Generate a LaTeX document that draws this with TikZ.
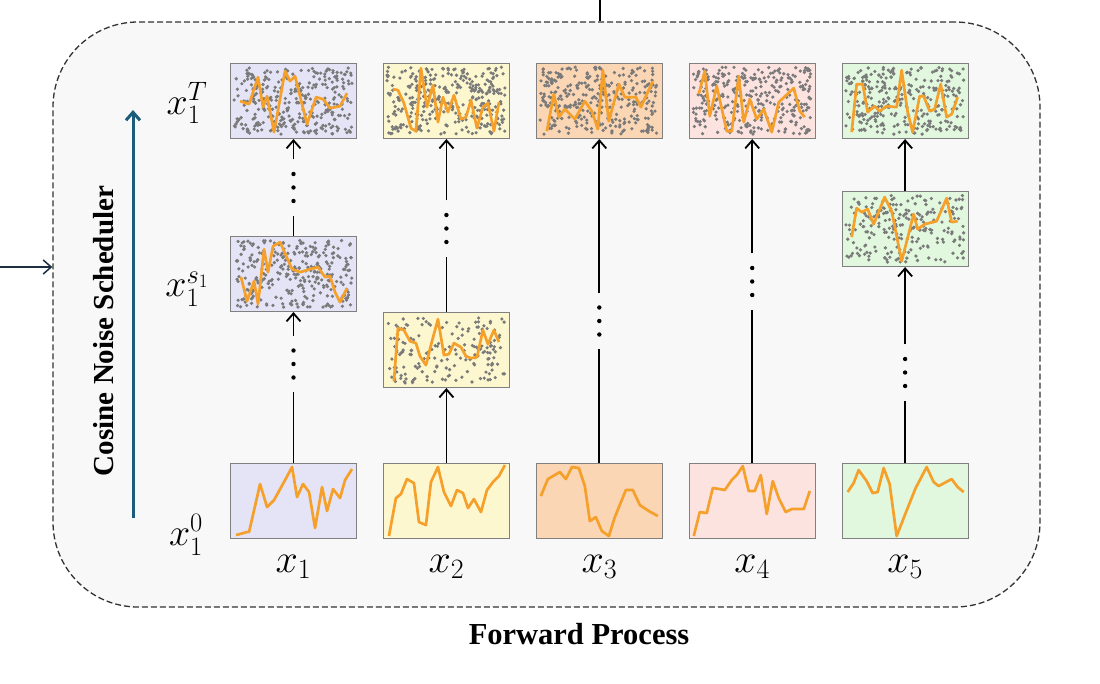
\RequirePackage{fix-cm}
\documentclass[tikz,border=0pt]{standalone}
\usepackage{fontspec}
\setmainfont{Liberation Serif}
\usetikzlibrary{positioning, arrows.meta}
\definecolor{panelA}{HTML}{E4E4F6}
\definecolor{panelB}{HTML}{FDF7CF}
\definecolor{panelC}{HTML}{FAD6B4}
\definecolor{panelD}{HTML}{FDE3E0}
\definecolor{panelE}{HTML}{E1F8DE}
\definecolor{sigline}{HTML}{F5A02A}
\definecolor{noisedot}{HTML}{7A7A7A}
\definecolor{schedblue}{HTML}{1B5C7A}
\definecolor{inblue}{HTML}{1C2F40}
\definecolor{framebg}{HTML}{F8F8F8}

\newcommand{\vgap}[3]{%
  \node[gap] (#1) at (#2 |- 0,#3) {};
  \foreach \k in {-13.5,0,13.5} \fill (#1.center) ++(0,\k) circle (2.2);}

\begin{document}
\begin{tikzpicture}[
    x=1pt, y=-1pt,
    node distance=26pt,
    frame/.style={draw=black!80, dash pattern=on 6pt off 3pt, line width=1.3pt,
                  rounded corners=85pt, fill=framebg,
                  minimum width=987pt, minimum height=585pt},
    sbox/.style={draw=black!50, line width=0.9pt, inner sep=0pt,
                 minimum width=126pt, minimum height=75pt},
    gap/.style={inner sep=0pt, minimum width=2pt, minimum height=56pt},
    sig/.style={sigline, line width=2.7pt, line join=round},
    noise/.style={fill=noisedot},
    arr/.style={line width=1.8pt, -{Straight Barb[length=8pt, width=14pt]}},
    link/.style={line width=1.8pt},
    lab/.style={inner sep=0pt, font=\fontsize{40}{44}\selectfont},
    side/.style={inner sep=0pt, font=\fontsize{38}{42}\selectfont},
    title/.style={font=\bfseries\fontsize{29}{32}\selectfont},
]
\path[use as bounding box, fill=white] (0,0) rectangle (1100,683);
\node[frame] (frame) at (546.5,314.5) {};
\coordinate (topin) at (600,0);
\coordinate (leftin) at (0,267);
\draw[line width=1.5pt] (topin) -- (topin |- frame.north);
\draw[arr, inblue, line width=1.5pt] (leftin) -- (leftin -| frame.west);

% panels
\node[sbox, fill=panelA] (c1bot) at (293.5,501) {};
\node[sbox, fill=panelB, right=of c1bot] (c2bot) {};
\node[sbox, fill=panelC, right=of c2bot] (c3bot) {};
\node[sbox, fill=panelD, right=of c3bot] (c4bot) {};
\node[sbox, fill=panelE, right=of c4bot] (c5bot) {};
\node[sbox, fill=panelA, above=151pt of c1bot] (c1mid) {};
\node[sbox, fill=panelB, above=75pt of c2bot] (c2mid) {};
\node[sbox, fill=panelE, above=196pt of c5bot] (c5mid) {};
\foreach \c/\col in {1/panelA, 2/panelB, 3/panelC, 4/panelD, 5/panelE}
    \node[sbox, fill=\col, above=324pt of c\c bot] (c\c top) {};

\pgfmathsetseed{17}
\foreach \b/\n in {c1top/320, c2top/320, c3top/320, c4top/320, c5top/290,
                   c1mid/290, c2mid/170, c5mid/220} {
    \foreach \i in {1,...,\n}
        \fill[noise] ([shift={({4+118*rnd},{4+67*rnd})}]\b.north west) circle (1.8);
}

\draw[sig, shift={(c1bot.north west)}] plot coordinates {(6,72) (17,69) (19,69) (30,21) (37,44) (44,37) (55,17) (62,4) (67,34) (73,21) (79,29) (85,65) (92,24) (97,48) (103,26) (110,35) (115,17) (122,6)};
\draw[sig, shift={(c2bot.north west)}] plot coordinates {(6,73) (13,35) (18,31) (24,16) (31,20) (36,59) (43,62) (48,19) (55,4) (61,29) (68,43) (74,27) (80,30) (85,45) (91,36) (98,49) (104,27) (110,19) (116,13) (122,2)};
\draw[sig, shift={(c3bot.north west)}] plot coordinates {(5,33) (12,16) (24,9) (30,16) (36,4) (43,5) (49,23) (54,58) (60,54) (66,68) (73,73) (79,54) (90,27) (97,27) (104,42) (113,48) (122,53)};
\draw[sig, shift={(c4bot.north west)}] plot coordinates {(5,73) (11,49) (18,50) (24,25) (31,26) (36,27) (43,17) (48,12) (54,3) (60,28) (66,28) (72,12) (78,51) (84,18) (90,35) (97,49) (103,46) (115,46) (121,28)};
\draw[sig, shift={(c5bot.north west)}] plot coordinates {(6,29) (12,20) (17,7) (25,18) (31,30) (36,29) (42,5) (48,21) (55,73) (64,50) (74,25) (85,4) (92,19) (97,23) (110,16) (116,24) (122,29)};
\draw[sig, shift={(c1top.north west)}] plot coordinates {(10,38) (19,41) (28,14) (33,44) (37,33) (44,69) (55,8) (60,18) (65,13) (77,61) (86,34) (93,36) (100,45) (110,43) (117,30)};
\draw[sig, shift={(c1mid.north west)}] plot coordinates {(11,41) (17,65) (24,45) (28,68) (34,13) (38,36) (43,10) (50,6) (62,33) (70,36) (80,33) (88,31) (95,41) (100,40) (105,56) (110,66) (117,52)};
\draw[sig, shift={(c2top.north west)}] plot coordinates {(10,26) (15,27) (21,40) (28,65) (33,68) (38,5) (44,44) (50,22) (55,59) (60,34) (65,49) (71,32) (78,56) (83,54) (88,37) (94,65) (100,44) (105,40) (111,68) (116,39)};
\draw[sig, shift={(c2mid.north west)}] plot coordinates {(11,69) (15,16) (21,18) (27,29) (33,31) (37,44) (43,53) (48,33) (55,7) (61,43) (66,42) (71,31) (78,35) (83,44) (88,46) (94,45) (100,18) (105,32) (111,18) (116,30)};
\draw[sig, shift={(c3top.north west)}] plot coordinates {(11,68) (18,31) (23,54) (29,46) (39,56) (49,38) (56,48) (62,66) (67,7) (73,58) (83,21) (89,34) (100,34) (105,44) (117,18)};
\draw[sig, shift={(c4top.north west)}] plot coordinates {(10,31) (16,8) (21,53) (28,23) (38,68) (43,68) (50,13) (55,59) (61,36) (68,56) (75,46) (83,69) (90,39) (105,25) (111,48) (116,54)};
\draw[sig, shift={(c5top.north west)}] plot coordinates {(10,69) (15,21) (21,21) (26,49) (33,43) (38,48) (45,43) (55,44) (60,7) (66,49) (71,69) (78,33) (82,33) (88,48) (93,46) (99,21) (105,54) (110,51) (116,34)};
\draw[sig, shift={(c5mid.north west)}] plot coordinates {(10,46) (15,17) (20,21) (26,18) (32,33) (43,6) (50,20) (60,70) (72,23) (76,38) (83,33) (95,30) (105,7) (110,31) (116,30)};

% steps between panels
\vgap{g1a}{c1top}{187.5}
\vgap{g1b}{c1top}{364}
\vgap{g2}{c2top}{228.5}
\vgap{g3}{c3top}{321}
\vgap{g4}{c4top}{281.5}
\vgap{g5}{c5top}{372.5}
\foreach \from/\to in {g1b/c1mid, g1a/c1top, g2/c2top, c2bot/c2mid,
                       g3/c3top, g4/c4top, c5mid/c5top, g5/c5mid}
    \draw[arr] (\from) -- (\to);
\foreach \from/\to in {c1bot/g1b, c1mid/g1a, c2mid/g2, c3bot/g3, c4bot/g4, c5bot/g5}
    \draw[link] (\from) -- (\to);

% labels
\foreach \c in {1,...,5}
    \node[lab, below=16pt of c\c bot] (x\c) {$x_{\c}$};
\node[side] (xT) at (187,103) {$x_1^{T}$};
\node[side] (xS) at (187,289) {$x_1^{s_1}$};
\node[side] (x0) at (186,535) {$x_1^{0}$};

\coordinate (sch0) at (133,518);
\coordinate (sch1) at (133,110);
\draw[arr, schedblue, line width=3pt] (sch0) -- (sch1);
\node[title, rotate=90] (sched) at (104,331) {Cosine Noise Scheduler};
\node[title, font=\bfseries\fontsize{30.5}{33}\selectfont] (fwd) at (579,634) {Forward Process};
\end{tikzpicture}
\end{document}
